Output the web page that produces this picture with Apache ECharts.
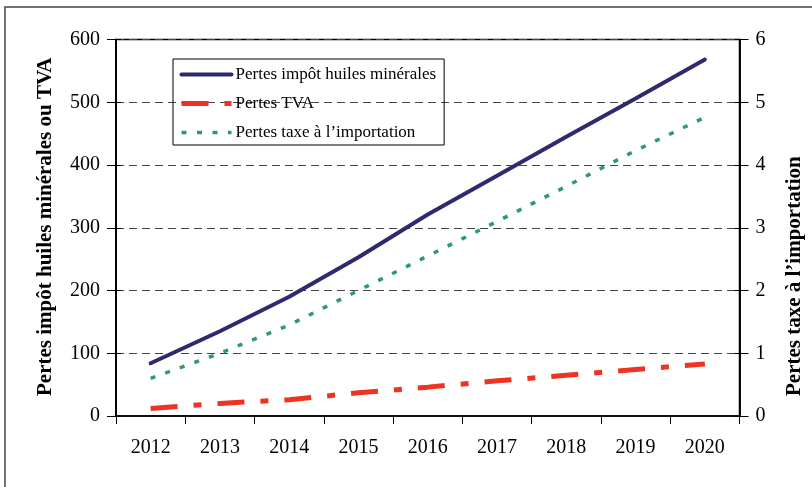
<!DOCTYPE html>
<html>
<head>
<meta charset="utf-8">
<script src="https://cdn.jsdelivr.net/npm/echarts@6/dist/echarts.min.js"></script>
<style>html,body{margin:0;padding:0;background:#fff;}#c{width:812px;height:487px;}</style>
</head>
<body>
<div id="c"></div>
<script>
var years = ['2012','2013','2014','2015','2016','2017','2018','2019','2020'];
var huiles = [84, 135, 190, 253, 321, 383, 445, 506, 568];
var tva = [12, 20, 26, 37, 46, 56, 65, 74, 83];
var importation = [0.6, 1.0, 1.45, 2.0, 2.55, 3.1, 3.66, 4.23, 4.76];
var leftTicks = [0, 100, 200, 300, 400, 500, 600];
var rightTicks = [0, 1, 2, 3, 4, 5, 6];
var names = ['Pertes impôt huiles minérales', 'Pertes TVA', 'Pertes taxe à l\u2019importation'];

var FONT = '"Liberation Serif", "Times New Roman", serif';
var chart = echarts.init(document.getElementById('c'), null, {renderer: 'canvas'});

function yAx(pos, max, showLabel, inside, idx) {
  return {
    type: 'value', position: pos, min: 0, max: max, interval: max / 6,
    axisLine: {show: true, lineStyle: {color: '#000', width: 1.5}},
    axisTick: {show: true, inside: inside, length: inside ? 5 : 9, lineStyle: {color: '#000', width: 1}},
    axisLabel: {show: showLabel, fontFamily: FONT, fontSize: 20, color: '#000', margin: 16},
    splitLine: {show: idx === 0, lineStyle: {color: '#444', type: [8, 5], width: 1}}
  };
}

chart.setOption({
  animation: false,
  backgroundColor: '#fff',
  grid: {left: 116, right: 72.5, top: 39.5, bottom: 71, show: true, borderColor: '#000', borderWidth: 1.5, backgroundColor: 'transparent'},
  legend: {
    show: true, orient: 'vertical', left: 173, top: 59,
    data: [
      {name: names[0], lineStyle: {width: 4}},
      {name: names[1], lineStyle: {width: 5}},
      {name: names[2], lineStyle: {width: 3.5}}
    ],
    itemWidth: 50, itemHeight: 14, itemGap: 12,
    padding: [7, 8, 4, 6],
    borderColor: '#000', borderWidth: 1,
    itemStyle: {opacity: 0},
    textStyle: {fontFamily: FONT, fontSize: 17, color: '#000', padding: [0, 0, 0, -1]},
    selectedMode: false
  },
  xAxis: {
    type: 'category', data: years, boundaryGap: true,
    axisLine: {lineStyle: {color: '#000', width: 1.5}},
    axisTick: {show: true, length: 8, lineStyle: {color: '#000'}},
    axisLabel: {fontFamily: FONT, fontSize: 20, color: '#000', margin: 22},
    splitLine: {show: false}
  },
  yAxis: [
    yAx('left', 600, true, false, 0),
    yAx('right', 6, true, false, 1),
    yAx('left', 600, false, true, 2),
    yAx('right', 6, false, true, 3)
  ],
  series: [
    {name: names[0], type: 'line', yAxisIndex: 0, data: huiles, symbol: 'none',
     lineStyle: {color: '#2e2a6e', width: 4, cap: 'round'}, itemStyle: {color: '#2e2a6e'}, z: 5},
    {name: names[1], type: 'line', yAxisIndex: 0, data: tva, symbol: 'none',
     lineStyle: {color: '#ee3322', width: 5, type: [27, 16, 8, 16], cap: 'butt'}, itemStyle: {color: '#ee3322'}, z: 4},
    {name: names[2], type: 'line', yAxisIndex: 1, data: importation, symbol: 'none',
     lineStyle: {color: '#2e9a6a', width: 3.5, type: [5, 10.5], cap: 'butt'}, itemStyle: {color: '#2e9a6a'}, z: 3}
  ],
  graphic: [
    {type: 'rect', shape: {x: 5, y: 7, width: 900, height: 600}, style: {fill: 'none', stroke: '#444', lineWidth: 1.5}, silent: true, z: 0},
    {type: 'text', x: 46, y: 396, rotation: Math.PI / 2,
     style: {text: 'Pertes impôt huiles minérales ou TVA', font: 'bold 21px ' + FONT, fill: '#000', align: 'left', verticalAlign: 'middle'}},
    {type: 'text', x: 795, y: 396, rotation: Math.PI / 2,
     style: {text: 'Pertes taxe à l\u2019importation', font: 'bold 21px ' + FONT, fill: '#000', align: 'left', verticalAlign: 'middle'}}
  ]
});
</script>
</body>
</html>
